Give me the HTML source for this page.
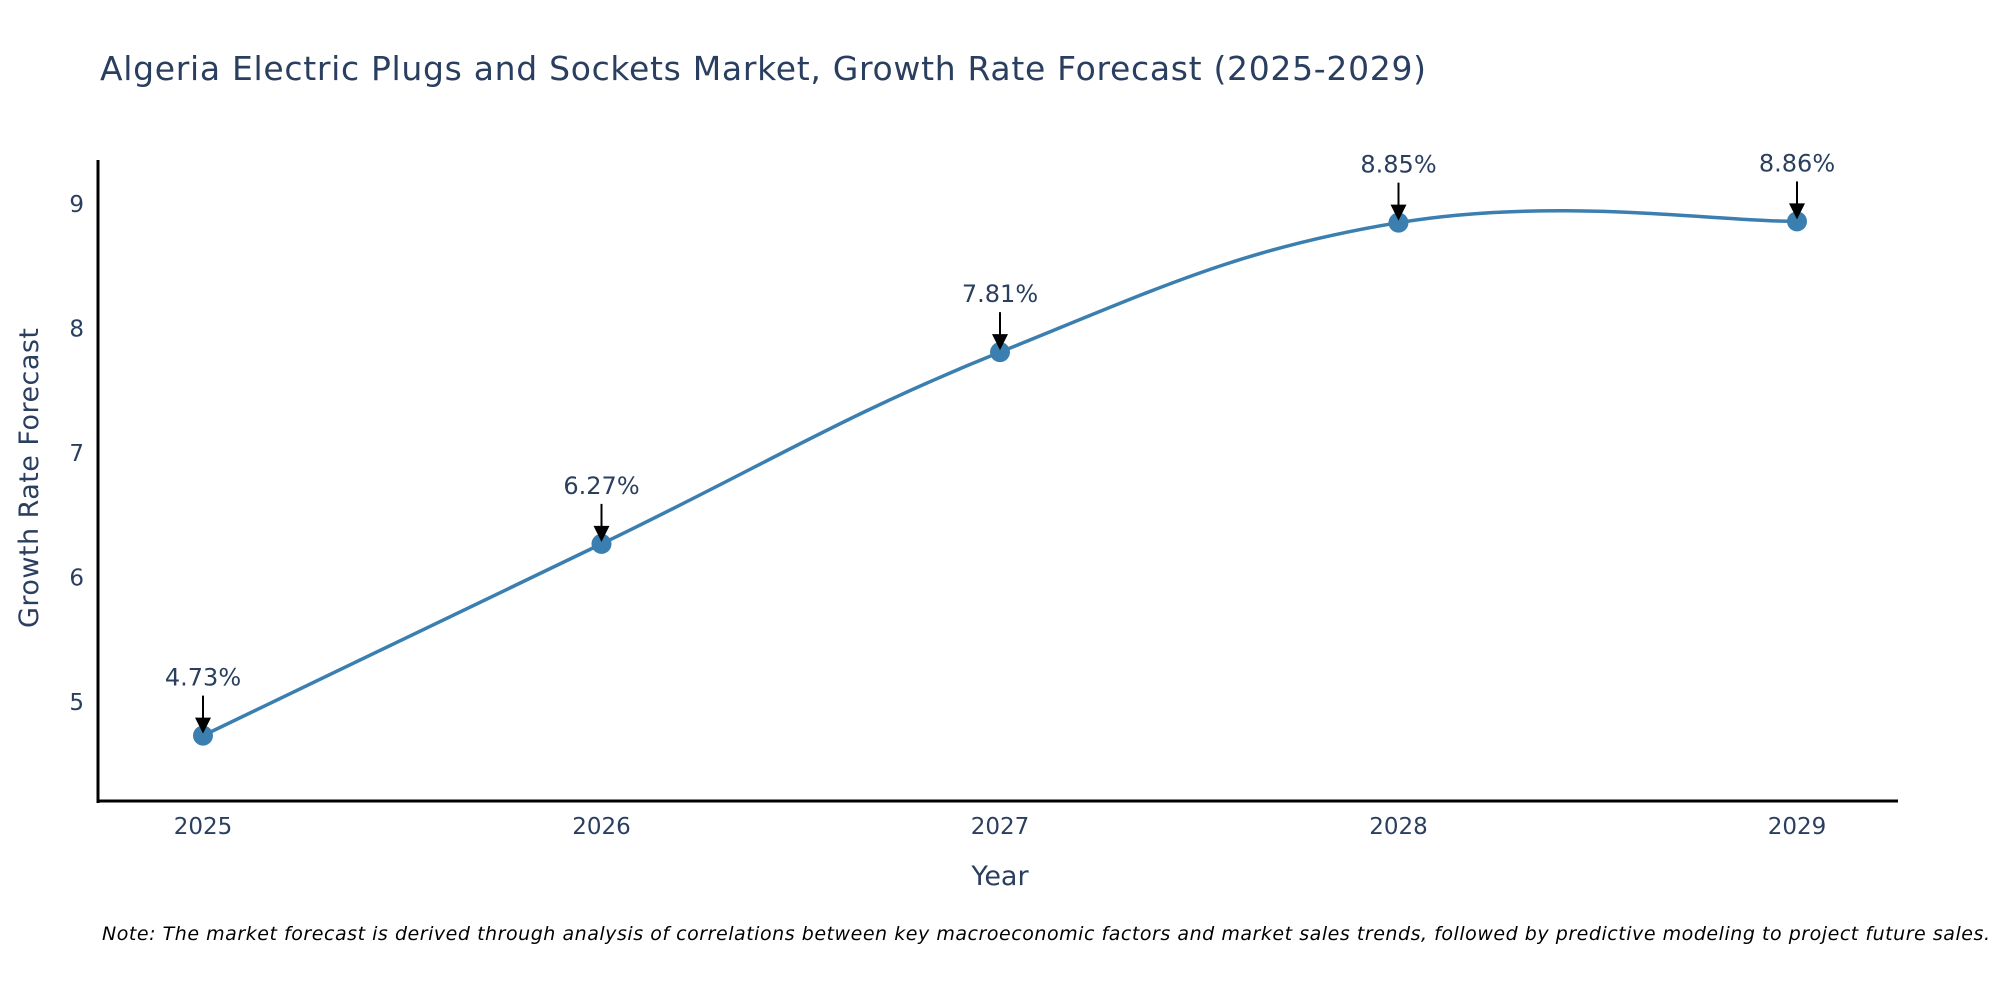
<!DOCTYPE html>
<html><head><meta charset="utf-8"><style>
html,body{margin:0;padding:0;background:#fff;width:2000px;height:1000px;overflow:hidden}
text{font-family:"DejaVu Sans","Liberation Sans",sans-serif}
</style></head><body>
<svg id="chart" width="2000" height="1000" xmlns="http://www.w3.org/2000/svg">
<text x="100" y="80" font-size="33" fill="#2a3f5f" textLength="1326">Algeria Electric Plugs and Sockets Market, Growth Rate Forecast (2025-2029)</text>
<g id="ticks"></g>
<path id="line" fill="none" stroke="#3a7fb0" stroke-width="3.5"/>
<g id="marks"></g>
<line x1="98" y1="160" x2="98" y2="803" stroke="#000" stroke-width="3"/>
<line x1="97" y1="801" x2="1898" y2="801" stroke="#000" stroke-width="3"/>
<text transform="translate(38,478) rotate(-90)" text-anchor="middle" font-size="27" fill="#2a3f5f" textLength="300">Growth Rate Forecast</text>
<text x="1000" y="885" text-anchor="middle" font-size="27" fill="#2a3f5f">Year</text>
<text x="102" y="940" font-size="19" font-style="italic" fill="#000" textLength="1888">Note: The market forecast is derived through analysis of correlations between key macroeconomic factors and market sales trends, followed by predictive modeling to project future sales.</text>
</svg>
<script>
const years = [2025, 2026, 2027, 2028, 2029];
const values = [4.73, 6.27, 7.81, 8.85, 8.86];
const labels = ["4.73%", "6.27%", "7.81%", "8.85%", "8.86%"];
const yTicks = [5, 6, 7, 8, 9];

const NS = "http://www.w3.org/2000/svg";
function xs(yr){ return 203 + (yr - 2025) * 398.5; }
function ys(v){ return 702 - (v - 5) * 124.5; }
function mk(tag, attrs){ const e = document.createElementNS(NS, tag); for (const k in attrs) e.setAttribute(k, attrs[k]); return e; }

const tg = document.getElementById('ticks');
yTicks.forEach(t => {
  const e = mk('text', {x: 84, y: ys(t) + 8, 'text-anchor': 'end', 'font-size': 23, fill: '#2a3f5f'});
  
  
  e.textContent = t; tg.appendChild(e);
});
years.forEach(y => {
  const e = mk('text', {x: xs(y), y: 834, 'text-anchor': 'middle', 'font-size': 23, fill: '#2a3f5f'});
  
  
  e.textContent = y; tg.appendChild(e);
});

const pts = years.map((y, i) => [xs(y), ys(values[i])]);
let d = 'M' + pts[0][0] + ',' + pts[0][1];
for (let i = 0; i < pts.length - 1; i++) {
  const p0 = pts[Math.max(0, i - 1)], p1 = pts[i], p2 = pts[i + 1], p3 = pts[Math.min(pts.length - 1, i + 2)];
  const k = 1 / 5;
  const c1 = [p1[0] + (p2[0] - p0[0]) * k, p1[1] + (p2[1] - p0[1]) * k];
  const c2 = [p2[0] - (p3[0] - p1[0]) * k, p2[1] - (p3[1] - p1[1]) * k];
  d += ' C' + c1 + ' ' + c2 + ' ' + p2;
}
document.getElementById('line').setAttribute('d', d);

const mg = document.getElementById('marks');
pts.forEach((p, i) => {
  const c = mk('circle', {cx: p[0], cy: p[1], r: 10, fill: '#3a7fb0'});
  
  
  mg.appendChild(c);
  const a = mk('line', {x1: p[0], y1: p[1] - 40, x2: p[0], y2: p[1] - 16, stroke: '#000', 'stroke-width': 2});
  
  
  mg.appendChild(a);
  const h = mk('polygon', {points: (p[0]-8)+','+(p[1]-18)+' '+(p[0]+8)+','+(p[1]-18)+' '+p[0]+','+(p[1]-2), fill: '#000'});
  
  
  mg.appendChild(h);
  const t = mk('text', {x: p[0], y: p[1] - 50, 'text-anchor': 'middle', 'font-size': 24, fill: '#2a3f5f'});
  
  
  t.textContent = labels[i];
  mg.appendChild(t);
});
</script>
</body></html>
